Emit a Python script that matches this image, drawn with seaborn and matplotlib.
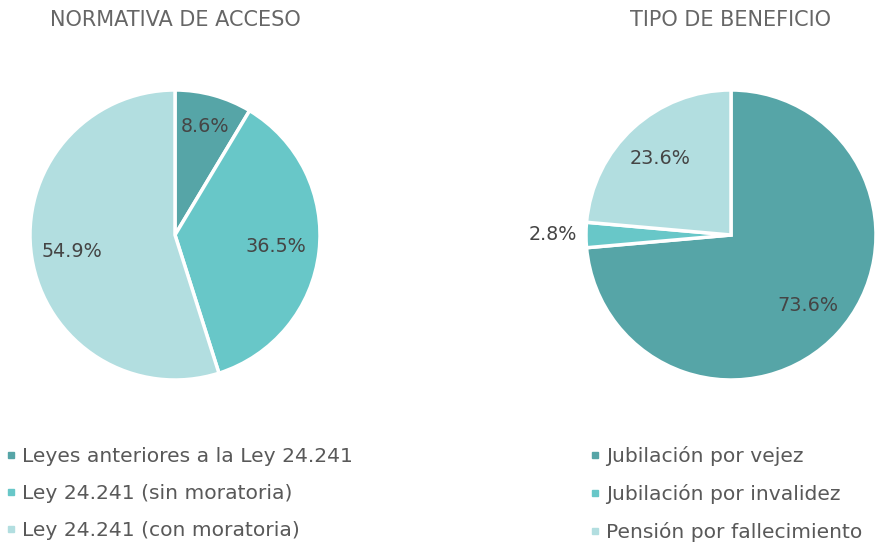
import math
import matplotlib
matplotlib.use("Agg")
import matplotlib.pyplot as plt
import seaborn as sns
from matplotlib.lines import Line2D

sns.set_theme(style="white")
plt.rcParams['font.family'] = ['DejaVu Sans']

# Data
left_title = "NORMATIVA DE ACCESO"
left_labels = ["Leyes anteriores a la Ley 24.241", "Ley 24.241 (sin moratoria)", "Ley 24.241 (con moratoria)"]
left_values = [8.6, 36.5, 54.9]

right_title = "TIPO DE BENEFICIO"
right_labels = ["Jubilación por vejez", "Jubilación por invalidez", "Pensión por fallecimiento"]
right_values = [73.6, 2.8, 23.6]

colors = sns.color_palette(["#56A5A7", "#68C7C8", "#B2DEE0"])
text_color = "#454545"
legend_color = "#595959"

W, H = 878, 544
fig = plt.figure(figsize=(W / 100, H / 100), dpi=100)

R = 145


def make_pie(cx, cy, values, pct_dist, title):
    ax = fig.add_axes([(cx - R) / W, (H - cy - R) / H, 2 * R / W, 2 * R / H])
    wedges, texts, autotexts = ax.pie(
        values, colors=colors, startangle=90, counterclock=False,
        autopct=lambda p: f"{p:.1f}%", pctdistance=0.72,
        wedgeprops=dict(edgecolor="white", linewidth=2.5),
        textprops=dict(color=text_color, fontsize=13.8),
    )
    for t, d in zip(autotexts, pct_dist):
        x, y = t.get_position()
        r0 = math.hypot(x, y)
        t.set_position((x / r0 * d, y / r0 * d))
    ax.set_xlim(-1, 1)
    ax.set_ylim(-1, 1)
    ax.set_aspect("equal")
    ax.axis("off")
    fig.text(cx / W, 1 - 20 / H, title, ha="center", va="center",
             fontsize=15, color="#666666")
    return ax


make_pie(175, 235, left_values, [0.78, 0.70, 0.72], left_title)
make_pie(731, 235, right_values, [0.72, 1.23, 0.72], right_title)


def make_legend(x, y, labels):
    handles = [Line2D([], [], marker="s", linestyle="none", markersize=5,
                      markerfacecolor=c, markeredgecolor=c) for c in colors]
    fig.legend(handles, labels, loc="upper left", bbox_to_anchor=(x / W, 1 - y / H),
               frameon=False, handlelength=0.5, handletextpad=0.3,
               labelspacing=0.9, fontsize=14.6, labelcolor=legend_color,
               borderpad=0, borderaxespad=0)


make_legend(6, 447, left_labels)
make_legend(590, 446, right_labels)

fig.savefig("out.png", dpi=100)
